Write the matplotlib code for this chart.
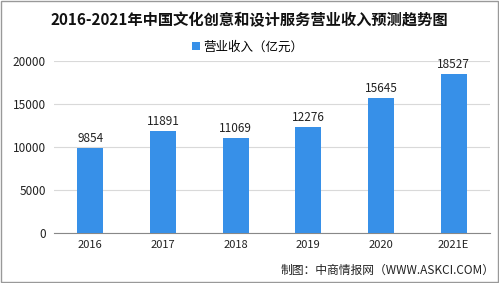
import matplotlib.pyplot as plt
from matplotlib.patches import Rectangle

plt.rcParams['font.family'] = ['Noto Sans CJK SC', 'DejaVu Sans']

years = ['2016', '2017', '2018', '2019', '2020', '2021E']
revenue = [9854, 11891, 11069, 12276, 15645, 18527]
yticks = [0, 5000, 10000, 15000, 20000]

fig = plt.figure(figsize=(4.99, 2.83), dpi=100)
ax = fig.add_axes([54 / 499, 1 - 233 / 283, 436 / 499, 172 / 283])

bars = ax.bar(years, revenue, width=0.36, color='#3790e8', zorder=3,
              label='营业收入（亿元）')
for b, v in zip(bars, revenue):
    ax.text(b.get_x() + b.get_width() / 2, v + 350, str(v),
            ha='center', va='bottom', fontsize=8.5, color='#222222')

ax.set_ylim(0, 20000)
ax.set_yticks(yticks)
ax.set_xlim(-0.5, len(years) - 0.5)
ax.grid(axis='y', color='#d9d9d9', linewidth=0.8, zorder=0)
for s in ['top', 'right', 'left']:
    ax.spines[s].set_visible(False)
ax.spines['bottom'].set_color('#888888')
ax.tick_params(axis='y', length=0, labelsize=8.5, colors='#222222', pad=6)
ax.tick_params(axis='x', length=0, labelsize=8, colors='#222222', pad=5)

fig.text(0.5, 1 - 20 / 283, '2016-2021年中国文化创意和设计服务营业收入预测趋势图',
         ha='center', va='center', fontsize=11, fontweight='bold', color='#111111')
fig.legend(loc='center', bbox_to_anchor=(248 / 499, 1 - 47 / 283), frameon=False,
           fontsize=9, handlelength=0.6, handleheight=0.6, handletextpad=0.3)
fig.text(495 / 499, 1 - 270 / 283, '制图：中商情报网（WWW.ASKCI.COM）',
         ha='right', va='center', fontsize=8.5, color='#222222')

fig.patches.append(Rectangle((0.002, 0.003), 0.995, 0.993, transform=fig.transFigure,
                             fill=False, edgecolor='#999999', linewidth=1))

fig.savefig('out.png', dpi=100)
